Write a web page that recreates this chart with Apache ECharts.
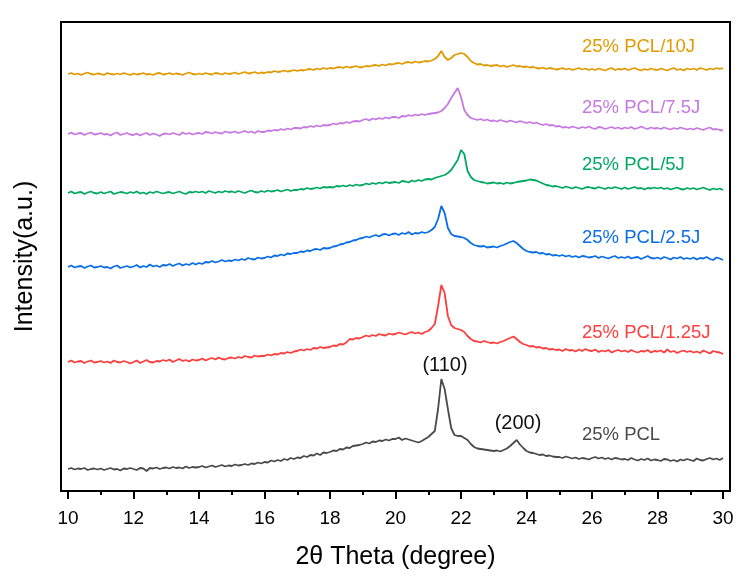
<!DOCTYPE html>
<html>
<head>
<meta charset="utf-8">
<script src="https://cdn.jsdelivr.net/npm/echarts@6/dist/echarts.min.js"></script>
<style>html,body{margin:0;padding:0;background:#fff}#c{width:751px;height:578px}</style>
</head>
<body>
<div id="c"></div>
<script>
// 2-theta positions (degree)
const twoTheta = [
10.0,10.1,10.2,10.3,10.4,10.5,10.6,10.7,10.8,10.9,
11.0,11.1,11.2,11.3,11.4,11.5,11.6,11.7,11.8,11.9,
12.0,12.1,12.2,12.3,12.4,12.5,12.6,12.7,12.8,12.9,
13.0,13.1,13.2,13.3,13.4,13.5,13.6,13.7,13.8,13.9,
14.0,14.1,14.2,14.3,14.4,14.5,14.6,14.7,14.8,14.9,
15.0,15.1,15.2,15.3,15.4,15.5,15.6,15.7,15.8,15.9,
16.0,16.1,16.2,16.3,16.4,16.5,16.6,16.7,16.8,16.9,
17.0,17.1,17.2,17.3,17.4,17.5,17.6,17.7,17.8,17.9,
18.0,18.1,18.2,18.3,18.4,18.5,18.6,18.7,18.8,18.9,
19.0,19.1,19.2,19.3,19.4,19.5,19.6,19.7,19.8,19.9,
20.0,20.1,20.2,20.3,20.4,20.5,20.6,20.7,20.8,20.9,
21.0,21.1,21.2,21.3,21.4,21.5,21.6,21.7,21.8,21.9,
22.0,22.1,22.2,22.3,22.4,22.5,22.6,22.7,22.8,22.9,
23.0,23.1,23.2,23.3,23.4,23.5,23.6,23.7,23.8,23.9,
24.0,24.1,24.2,24.3,24.4,24.5,24.6,24.7,24.8,24.9,
25.0,25.1,25.2,25.3,25.4,25.5,25.6,25.7,25.8,25.9,
26.0,26.1,26.2,26.3,26.4,26.5,26.6,26.7,26.8,26.9,
27.0,27.1,27.2,27.3,27.4,27.5,27.6,27.7,27.8,27.9,
28.0,28.1,28.2,28.3,28.4,28.5,28.6,28.7,28.8,28.9,
29.0,29.1,29.2,29.3,29.4,29.5,29.6,29.7,29.8,29.9,
30.0];

// intensities (a.u., stacked with offsets as plotted)
const pcl = [
22,23,21.5,22.5,22,23,21,22,22.5,21.5,
22.5,21,22,23,21.5,22,20.5,22.5,22,23,
22,21,23,22.5,20,23,22.5,23.5,22,23,
23.5,22.5,24,23,23.5,22.5,24.5,23,24,23.5,
24,25,23.5,24.5,25.5,24,25,26,24.5,25.5,
25,26.5,25.5,26,27,26,27.5,27,28.5,27.5,
29,28.5,30.5,29.5,31,30,32,31,33,32,
33.5,33,35,34,36,35.5,37.5,36,38.5,38,
39,40.5,40,42,41.5,43.5,43,45,45.5,46,
47,48.5,47.5,49.5,49,50.5,50,51.5,50.5,52,
52,53.5,51,52.5,51.5,50.5,49.5,48.5,50,52,
54,57,60,82,112,102,82,63,56,55,
55,53,51,47,44,42.5,42,41.5,41,40.5,
40,40.5,39.5,41,42.5,45,48,51,46.5,43,
40,38.5,38,37,36,36.5,35,35.5,34.5,34,
34,33,34.5,33.5,32.5,33.5,32,33,32.5,31.5,
33,34,32.5,33.5,32,33,31.5,33,32.5,31.5,
32,31,33,31.5,30.5,32,31,32.5,30.5,31.5,
31,30,32,31.5,30,31,29.5,31.5,30.5,32,
31,30,32.5,31,30.5,32,33,31.5,32.5,31,
33];

const pcl125 = [
129,130.5,128.5,129.5,130,128,129.5,130.5,128.5,129,
130,128.5,129.5,128,130.5,129,128.5,130,129,127.5,
129,130.5,128,129.5,131,129,128.5,130,129.5,131,
130,131.5,129,130.5,132,130,131,129.5,131.5,130.5,
131,132.5,130.5,132,133,131.5,133.5,132,131.5,133,
133.5,132.5,134,133,135,134,133.5,135.5,134.5,135,
135,136.5,135.5,137,136.5,138,137.5,139,138,139.5,
140,141.5,140.5,142,141,143,142.5,144,143,143.5,
144,145.5,145,147,146.5,148.5,152,151.5,153,152.5,
154,155.5,154.5,156,155,157,156,155.5,157.5,156.5,
157,158.5,157.5,156.5,158,159,157.5,158.5,157,159,
160,163,167,185,206,198,175,166,163,162,
161,159,155,152,150,149.5,148.5,150,149,148,
148.5,147.5,149,150,151.5,153,154.5,152,149,147,
146,144.5,145,143.5,144,142.5,143,141.5,142,141,
141.5,140,142,140.5,141,139.5,141.5,140,142,140.5,
140,141.5,139,140.5,139.5,141,138.5,140,141,139.5,
140.5,139,141,139.5,138.5,140,139.5,141,138.5,140,
139.5,140.5,138.5,141.5,139,140,138,139.5,140.5,139,
140,138.5,139.5,138,140.5,139,137.5,140,139,138.5,
137];

const pcl25 = [
224,225.5,223.5,224.5,225,223,224.5,225.5,223.5,224,
225,223.5,224,222.5,224.5,225.5,223,224,225,223.5,
224.5,226,223.5,225,224,226.5,224.5,225.5,224,226,
225.5,227,225,226.5,227.5,225.5,227,226,228,226.5,
228,227,229,228.5,230,228.5,229.5,231,229.5,230.5,
230,231.5,230.5,232,231,233,232,231.5,233.5,232.5,
233,234.5,233.5,235.5,235,236.5,235.5,237.5,237,238,
238,239.5,239,240.5,240,241.5,242,241,243,242.5,
243,244.5,245,246.5,247,248.5,249,250.5,251,252.5,
253,254.5,253.5,255,256,254.5,256.5,257,255.5,257,
257.5,256,258,257,259,256.5,258,257.5,259,258,
259,261,264,272,285,278,263,257,255,254.5,
254,253,251,248,246,245,244.5,245,243.5,244,
244.5,243.5,245,246,247.5,249,250,248,245,242,
240,239,238.5,239,237.5,238,236.5,237,235.5,236,
235,236,234.5,235.5,234,235,233.5,235,234.5,233.5,
234,235,233,234.5,233.5,232.5,234,235,233,234,
233,234.5,232.5,233.5,234,232,233.5,235,233,232.5,
233.5,232,234,233,231.5,233.5,232.5,234,232,233,
232,233.5,231.5,233,232.5,234,232,231,233.5,232.5,
231];

const pcl5 = [
298,299.5,297.5,298.5,299,297,298.5,299.5,298,297.5,
299,297.5,298.5,299.5,297,298,299,298.5,297.5,299,
298,299.5,297.5,298.5,297,299,298,299.5,298.5,297.5,
298.5,299,297.5,298.5,299.5,298,297,299,298.5,299.5,
298.5,299.5,298,300,299,298,299.5,298.5,300,299,
299.5,298.5,300,299,298,299.5,300.5,299,298.5,300,
299,300.5,299.5,300,301,299.5,300.5,301.5,300,301,
301,302,301.5,303,302,302.5,303.5,302.5,304,303.5,
304,303.5,305,304.5,305.5,304.5,306,305,306.5,305.5,
306,307.5,306.5,308,307,308.5,307.5,309,308,308.5,
309,308,310,309.5,308.5,310.5,309.5,311,310,311.5,
312,311.5,313,314,315,316,318,321,326,331,
341,337,320,314,311,310,309,308.5,307.5,308,
308.5,307.5,308,307,308.5,307.5,308,309,309.5,310,
310.5,311.5,311,310.5,309,307.5,306,305.5,304.5,305,
304,303,304.5,303.5,302.5,304,303,302,303.5,304,
303,302.5,304,303,302,303.5,302.5,304,303,302,
303.5,302,303,304,302.5,303,301.5,303,302.5,303.5,
302.5,303.5,302,303,301.5,302.5,303.5,302,301.5,303,
302,303,301.5,302.5,303.5,302,301,302.5,301.5,302.5,
301];

const pcl75 = [
357,358.5,356.5,357.5,358,356,357.5,358.5,356.5,357,
358,356.5,357,355.5,357.5,358.5,356,357,358,356.5,
356,357.5,355.5,357,358,356,357.5,356.5,355,357,
357.5,356.5,358,357,356,358.5,357,358,356.5,357.5,
358,357,359,358.5,357.5,359,358,357.5,359.5,358.5,
358.5,359.5,358,359,360,358.5,359.5,358,360,359,
359,360.5,360,361,360.5,362,361,362.5,361.5,363,
363,362.5,364,363.5,365,364,365.5,364.5,366,365.5,
366,367.5,366.5,368,367.5,369,368,369.5,370,369.5,
371,372,370.5,372.5,371.5,373,372,373.5,372.5,374,
374,373,375,374.5,376,375,376.5,375.5,377,376,
377,377.5,378,378.5,380,383,387,393,398,403,
394,381,376,373,372,371,372,370.5,371.5,370,
370.5,369.5,371,370,369,370.5,369.5,368.5,370,369,
368,369,367.5,368.5,367,366,367,365.5,366,364.5,
365,363.5,364,363,364.5,363.5,362.5,364,363,364.5,
363,362,364,363.5,362,363,364,362.5,363.5,362,
363.5,362.5,364,362,363,364.5,363,362,363.5,362.5,
363,362,363.5,362.5,361.5,363,362,363.5,362.5,361.5,
362.5,361.5,363,362,361,362.5,363.5,361.5,362,361,
360.5];

const pcl10 = [
417,418,416.5,417.5,416,417.5,418.5,417,416.5,417.5,
417,416,418,417,416.5,417.5,416.5,418,417,416,
417.5,416.5,417,418,416.5,417,416,417.5,418,416.5,
417,418,416.5,417.5,417,416,417.5,418.5,417,416.5,
417.5,416.5,418,417,416.5,418,417.5,416.5,418,417,
417.5,418.5,417,418,419,417.5,418,419,417.5,418.5,
418,419,418.5,420,419,419.5,420.5,419.5,420,421,
420,421,420.5,421.5,422,421,422.5,421.5,423,422,
423,422.5,423.5,424,423,424.5,423.5,424,425,423.5,
424,425,424.5,425.5,426,425,426.5,425.5,427,426.5,
427.5,428,427,428.5,429,428,429.5,428.5,429,430,
429.5,430.5,432,435,440,434,431,433,436,437,
438,437,434,430,428,426.5,427,425.5,426,425,
425.5,426,424.5,425.5,424,425,426,424.5,425,424,
424.5,423.5,424,423,422.5,423.5,422,423,422.5,421.5,
422,423,421.5,422.5,421,422,423,421.5,422.5,421,
422,421,422.5,421.5,420.5,422,423,421,422,421.5,
422.5,421,422,423,421.5,420.5,422,421,422.5,421.5,
421,422.5,421.5,420.5,422,423,421,422,420.5,422.5,
421.5,422.5,421,423,422,421,422.5,421.5,423,422,
423];

const seriesNames = ['25% PCL','25% PCL/1.25J','25% PCL/2.5J','25% PCL/5J','25% PCL/7.5J','25% PCL/10J'];
const seriesValues = [pcl, pcl125, pcl25, pcl5, pcl75, pcl10];
const seriesColors = ['#4a4a4a','#ff3d3d','#0a6ee6','#00a864','#c878e2','#e19b00'];
const xTickValues = [10,12,14,16,18,20,22,24,26,28,30];
const peakLabels = ['(110)','(200)'];

const chart = echarts.init(document.getElementById('c'), null, {renderer:'canvas'});
const FONT = '"Liberation Sans", Arial, sans-serif';

const series = seriesValues.map((vals, k) => ({
  name: seriesNames[k],
  type: 'line',
  showSymbol: false,
  symbol: 'none',
  data: twoTheta.map((x, i) => [x, vals[i]]),
  lineStyle: {color: seriesColors[k], width: 1.8},
  itemStyle: {color: seriesColors[k]},
  animation: false
}));

const labelY = [435, 333, 238, 165, 108, 47];
const graphics = [
  {type:'rect', shape:{x:61, y:22, width:669, height:469}, style:{fill:'none', stroke:'#000', lineWidth:2}, z:100}
];
seriesNames.forEach((n, k) => {
  graphics.push({type:'text', x:582, y:labelY[k], style:{text:n, fill:seriesColors[k], font:'18.5px ' + FONT, verticalAlign:'middle', align:'left'}, z:100});
});
graphics.push({type:'text', x:445, y:365, style:{text:peakLabels[0], fill:'#111', font:'20px ' + FONT, verticalAlign:'middle', align:'center'}, z:100});
graphics.push({type:'text', x:518, y:423, style:{text:peakLabels[1], fill:'#111', font:'20px ' + FONT, verticalAlign:'middle', align:'center'}, z:100});

chart.setOption({
  animation: false,
  backgroundColor: '#fff',
  grid: {left: 68, right: 28, top: 22, bottom: 87, containLabel: false},
  xAxis: {
    type: 'value', min: 10, max: 30, interval: 2,
    name: '2θ Theta (degree)', nameLocation: 'middle', nameGap: 54,
    nameTextStyle: {fontSize: 25, color: '#000', fontFamily: FONT},
    axisLine: {show: false},
    axisTick: {show: true, length: 8, lineStyle: {color: '#000', width: 2}},
    minorTick: {show: true, splitNumber: 2, length: 4, lineStyle: {color: '#000', width: 2}},
    axisLabel: {fontSize: 19, color: '#000', margin: 18, fontFamily: FONT,
      customValues: xTickValues},
    splitLine: {show: false}, minorSplitLine: {show: false}
  },
  yAxis: {
    type: 'value', min: 0, max: 469,
    name: 'Intensity(a.u.)', nameLocation: 'middle', nameGap: 30, nameRotate: 90,
    nameTextStyle: {fontSize: 25, color: '#000', fontFamily: FONT},
    axisLine: {show: false}, axisTick: {show: false}, axisLabel: {show: false},
    splitLine: {show: false}
  },
  series: series,
  graphic: graphics
});
</script>
</body>
</html>
